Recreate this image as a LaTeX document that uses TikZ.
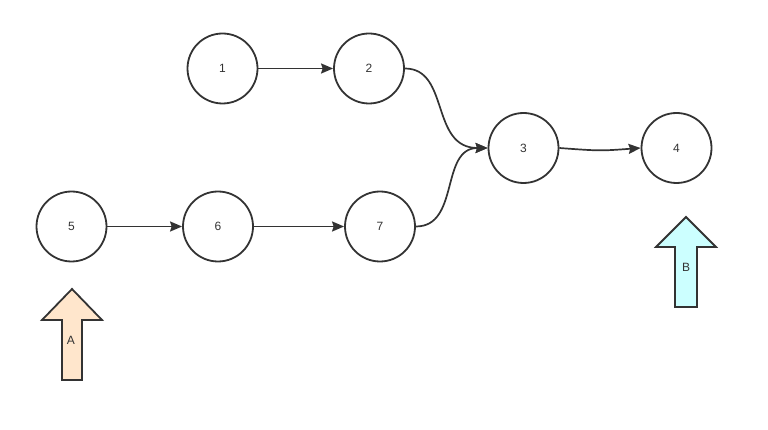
\documentclass[tikz,border=0pt]{standalone}
\usepackage{fontspec}
\setmainfont{Liberation Sans}
\usetikzlibrary{arrows.meta}
\definecolor{ink}{HTML}{333333}
\definecolor{peach}{HTML}{FFE6CC}
\definecolor{cyanlt}{HTML}{CCFFFF}
\tikzset{
  circ/.style={circle, draw=ink, line width=1.8pt, minimum size=70pt, inner sep=0pt, text=ink, font=\fontsize{12}{14}\selectfont},
  conn/.style={draw=ink, line width=1.7pt, -{Stealth[length=12pt,width=10pt,inset=1.5pt]}},
  bigarrow/.style={draw=ink, line width=1.8pt, line join=miter},
  lab/.style={text=ink, font=\fontsize{12}{14}\selectfont, inner sep=0pt}
}
\begin{document}
\begin{tikzpicture}[x=1pt,y=-1pt]
\useasboundingbox (0,0) rectangle (768,430);
\node[circ] (n1) at (222.5,68.5) {1};
\node[circ] (n2) at (369,68.5) {2};
\node[circ] (n3) at (523.5,148) {3};
\node[circ] (n4) at (676.5,148) {4};
\node[circ] (n5) at (71.5,226.5) {5};
\node[circ] (n6) at (218,226.5) {6};
\node[circ] (n7) at (380,226.5) {7};
\draw[conn] (n1) -- (n2);
\draw[conn] (n5) -- (n6);
\draw[conn] (n6) -- (n7);
\draw[conn] (n3.east) .. controls (600,151) .. (n4.west);
\draw[conn] (n2.east) .. controls (450,68.5) and (430,148) .. (n3.west);
\draw[conn] (n7.east) .. controls (460,226.5) and (440,148) .. (n3.west);
\draw[bigarrow, fill=peach] (72,289) -- (102,320) -- (82,320) -- (82,380) -- (62,380) -- (62,320) -- (42,320) -- cycle;
\node[lab] (labA) at (71,340) {A};
\draw[bigarrow, fill=cyanlt] (686,217) -- (716,247) -- (697,247) -- (697,307) -- (675,307) -- (675,247) -- (656,247) -- cycle;
\node[lab] (labB) at (686,267) {B};
\end{tikzpicture}
\end{document}
